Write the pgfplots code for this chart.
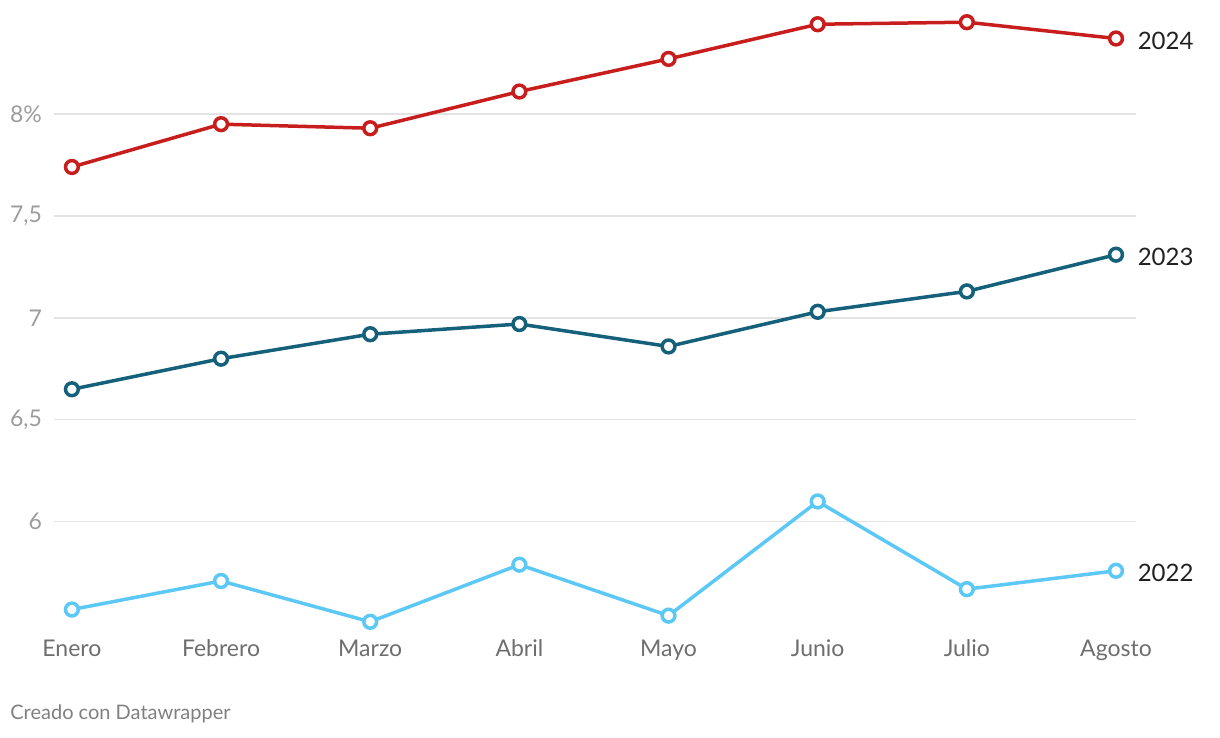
\documentclass[border=0pt]{standalone}
\usepackage{pgfplots}
\pgfplotsset{compat=1.18}
\usepackage{fontspec}
\setmainfont{Lato}
\definecolor{cRed}{HTML}{C71E1D}
\definecolor{cTeal}{HTML}{15607A}
\definecolor{cLight}{HTML}{5BC8F5}
\definecolor{gridc}{HTML}{E3E3E3}
\definecolor{ytc}{HTML}{9C9C9C}
\definecolor{xtc}{HTML}{6E6E6E}
\begin{document}
\begin{tikzpicture}
\useasboundingbox (0,0) rectangle (610pt,-369pt);
\begin{axis}[
  at={(27pt,-6pt)}, anchor=north west,
  scale only axis, width=541pt, height=311pt,
  xmin=-0.12, xmax=7.134, ymin=5.45, ymax=8.5,
  axis line style={draw=none},
  xtick={0,...,7},
  xticklabels={Enero,Febrero,Marzo,Abril,Mayo,Junio,Julio,Agosto},
  ytick={6,6.5,7,7.5,8},
  yticklabels={6,{6,5},7,{7,5},8\%},
  major tick length=0pt,
  ymajorgrids, grid style={gridc, line width=0.6pt},
  xtick style={draw=none}, ytick style={draw=none},
  x tick label style={font=\fontsize{11.5}{13}\selectfont, text=xtc, anchor=base, yshift=-11pt},
  y tick label style={font=\fontsize{11.5}{13}\selectfont, text=ytc, anchor=east, xshift=-2.5pt},
  clip=false,
  every axis plot/.append style={line width=1.75pt, mark=*, mark size=3.2pt},
]
\addplot[cLight, mark options={fill=white, draw=cLight}] coordinates {
(0,5.57) (1,5.71) (2,5.51) (3,5.79) (4,5.54) (5,6.10) (6,5.67) (7,5.76)}
 node[pos=1, anchor=west, inner sep=0pt, xshift=10pt, yshift=-1pt, text=black!87, font=\fontsize{12}{14}\selectfont]{2022};
\addplot[cTeal, mark options={fill=white, draw=cTeal}] coordinates {
(0,6.65) (1,6.80) (2,6.92) (3,6.97) (4,6.86) (5,7.03) (6,7.13) (7,7.31)}
 node[pos=1, anchor=west, inner sep=0pt, xshift=10pt, yshift=-1pt, text=black!87, font=\fontsize{12}{14}\selectfont]{2023};
\addplot[cRed, mark options={fill=white, draw=cRed}] coordinates {
(0,7.74) (1,7.95) (2,7.93) (3,8.11) (4,8.27) (5,8.44) (6,8.45) (7,8.37)}
 node[pos=1, anchor=west, inner sep=0pt, xshift=10pt, yshift=-1pt, text=black!87, font=\fontsize{12}{14}\selectfont]{2024};
\end{axis}
\node[anchor=west, inner sep=0pt, text=black!50, font=\fontsize{10}{12}\selectfont] at (5pt,-357pt) {Creado con Datawrapper};
\end{tikzpicture}
\end{document}
